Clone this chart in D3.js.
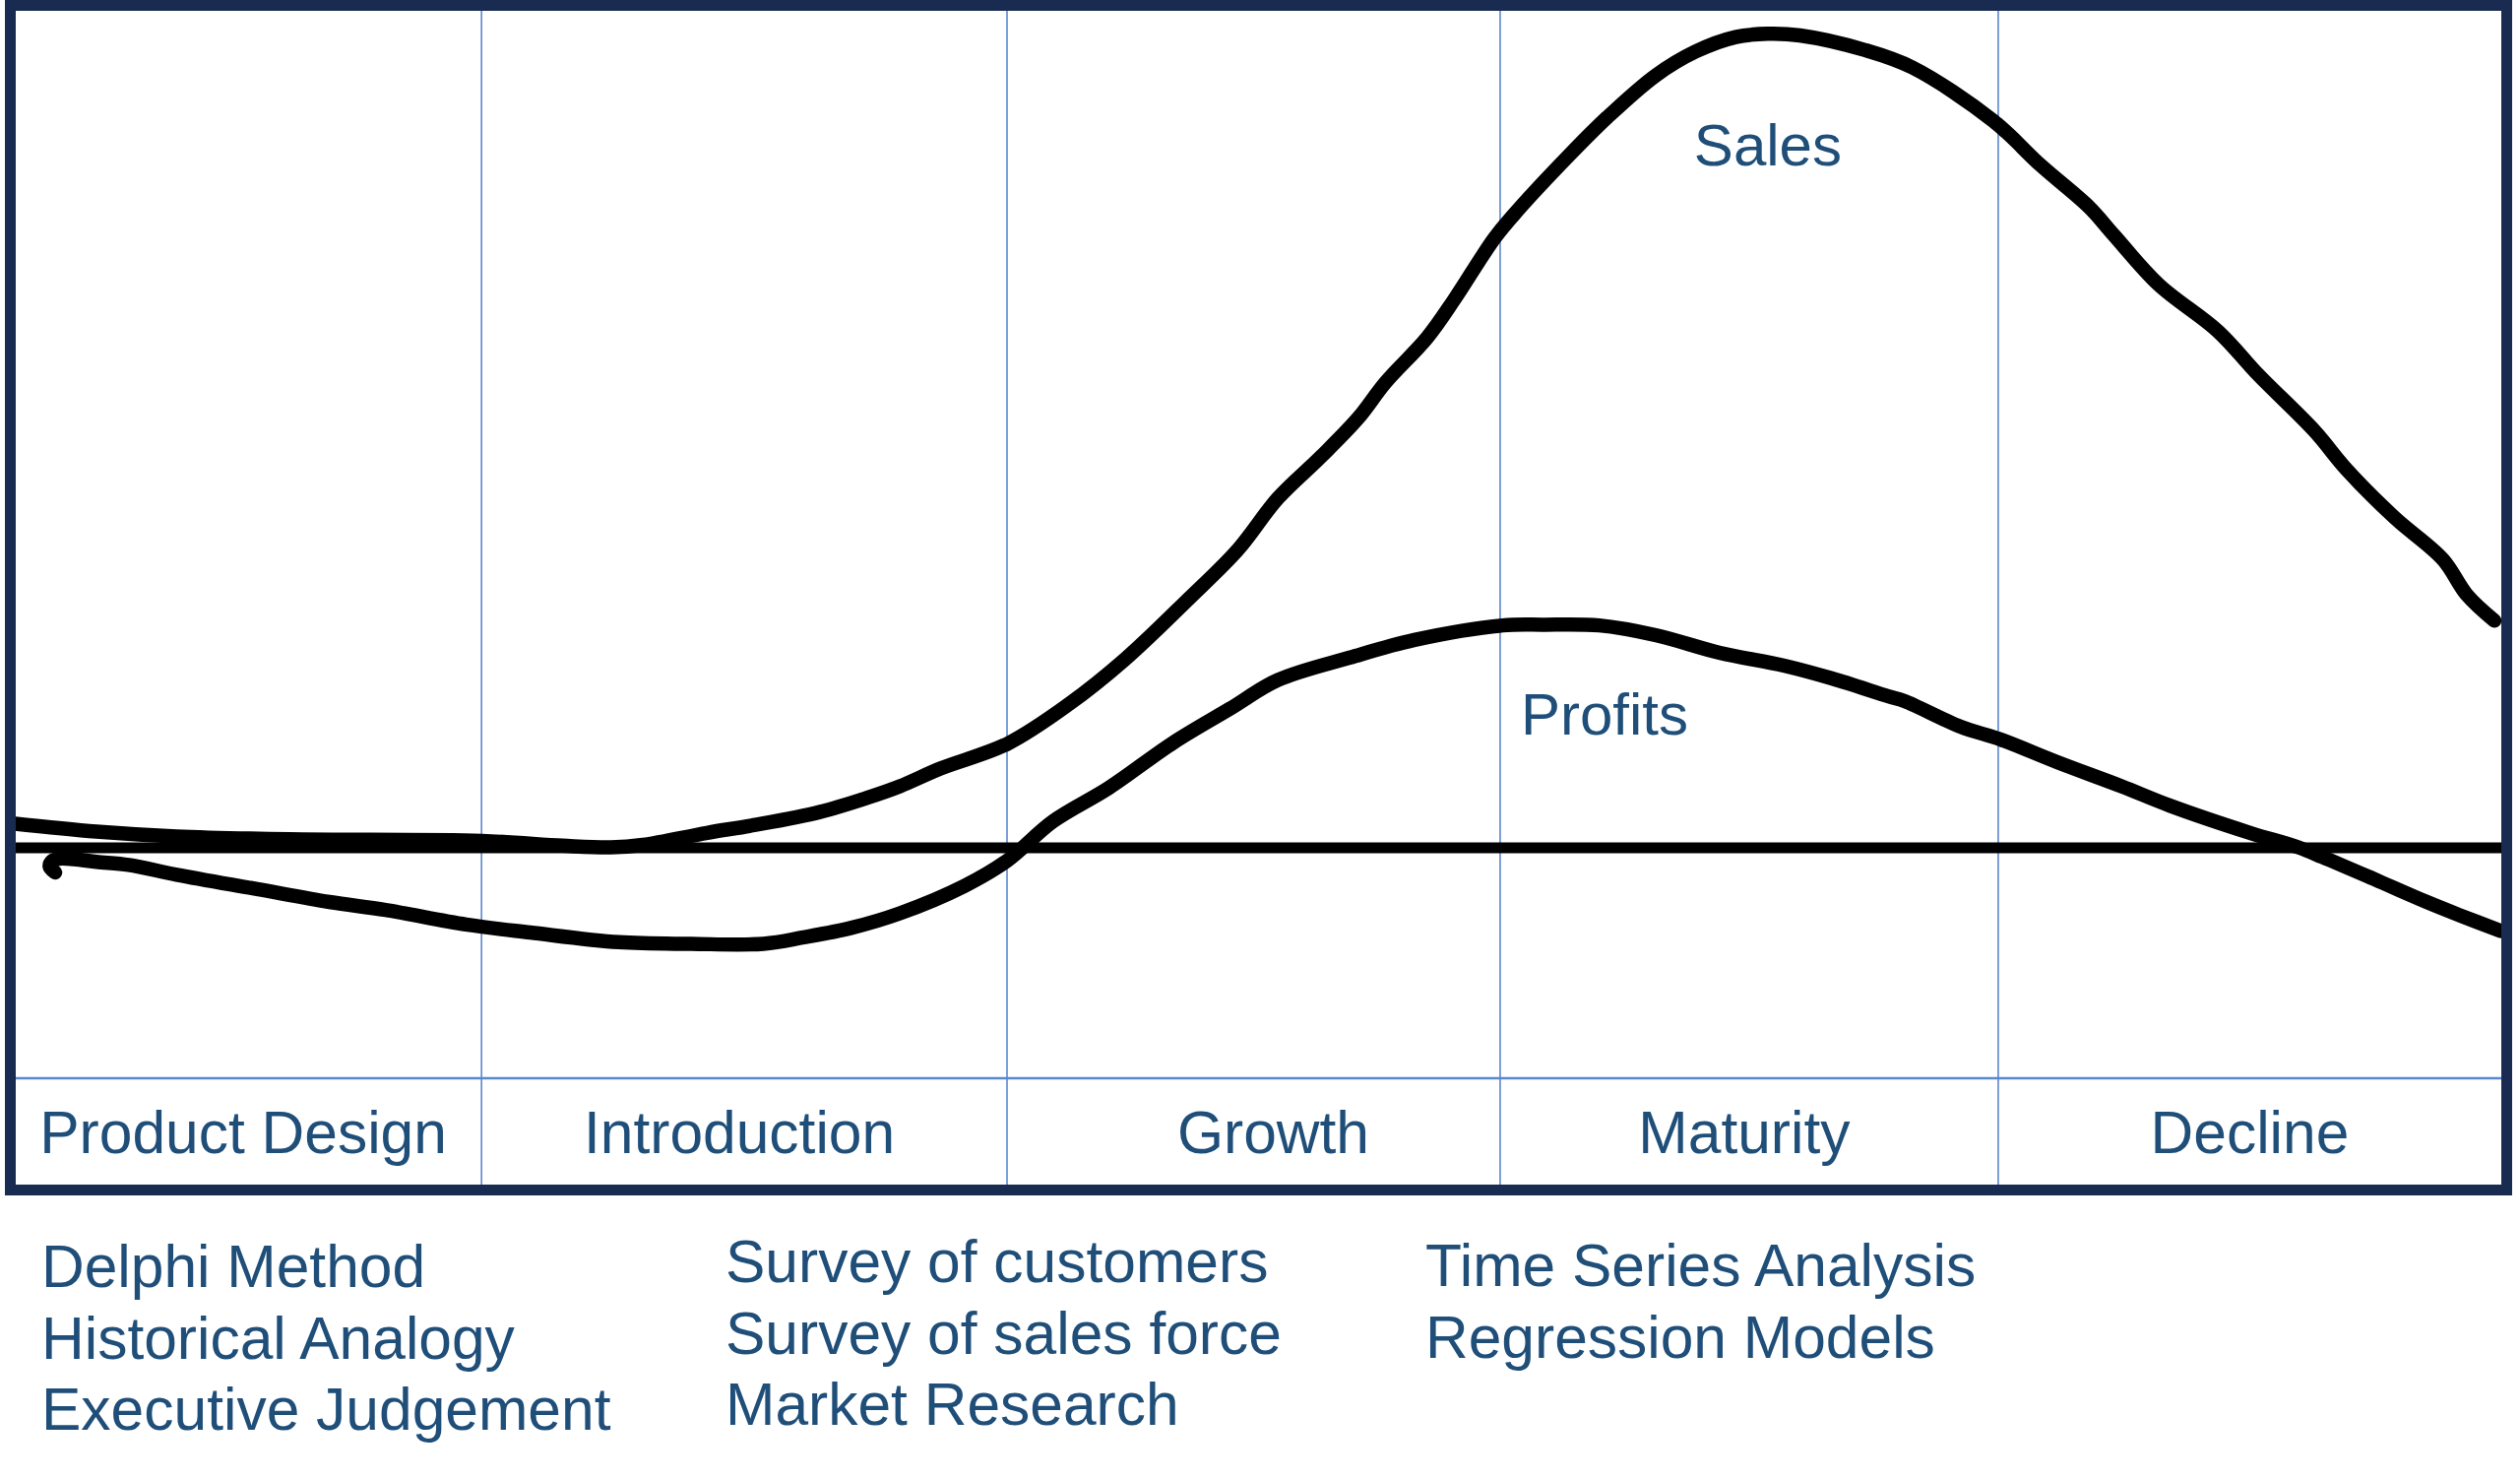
<!DOCTYPE html>
<html>
<head>
<meta charset="utf-8">
<script src="https://cdn.jsdelivr.net/npm/d3@7"></script>
<style>
  html, body { margin: 0; padding: 0; background: #ffffff; }
  svg { display: block; }
  text { font-family: "Liberation Sans", Arial, sans-serif; fill: #1F4E79; }
</style>
</head>
<body>
<script>
// ---------------- DATA ----------------
// time axis: 0..100 across the whole life cycle; value axis: 0 = break-even line
const stages = ["Product Design", "Introduction", "Growth", "Maturity", "Decline"];
const stageBounds = [0, 18.9, 40.0, 59.8, 79.8, 100];

const salesT = [0.08, 3.44, 6.66, 11.18, 18.92, 22.15, 24.09, 25.38, 27.96, 29.90, 32.48, 34.42, 35.70, 37.32,
  40.03, 42.48, 44.74, 47.32, 49.26, 50.87, 52.61, 54.10, 55.19, 56.87, 57.97, 59.58, 60.55, 62.48, 64.10,
  66.04, 67.65, 69.26, 70.55, 71.84, 74.42, 76.36, 79.59, 81.52, 83.46, 84.43, 86.24, 88.62, 90.24, 92.50,
  93.79, 95.72, 97.66, 98.62, 99.72];
const salesV = [3.0, 2.0, 1.4, 1.05, 0.85, 0.26, 0.06, 0.36, 1.84, 2.82, 4.40, 6.18, 7.56, 9.73,
  12.8, 17.63, 23.16, 30.66, 36.58, 42.90, 48.04, 52.77, 57.12, 62.65, 67.38, 74.89, 78.44, 84.76, 89.70,
  94.83, 97.79, 99.57, 99.96, 99.76, 97.99, 95.81, 89.30, 83.77, 78.64, 75.28, 69.16, 63.44, 58.10, 51.19,
  46.46, 40.53, 35.40, 31.06, 27.90];

const profitsT = [1.78, 1.56, 1.66, 1.94, 2.53, 3.44, 4.73, 6.66, 9.89, 12.79, 15.05, 18.28, 20.86, 24.41, 27.31,
  30.22, 31.83, 33.77, 35.70, 38.29, 40.03, 41.83, 44.09, 46.67, 48.93, 50.87, 53.77, 56.36, 59.90, 61.52,
  63.78, 66.04, 68.62, 71.20, 73.13, 75.39, 76.04, 78.29, 79.91, 82.17, 84.75, 86.69, 89.91, 91.85, 92.82,
  95.08, 97.01, 98.30, 99.98];
const profitsV = [-3.02, -2.30, -1.63, -1.33, -1.39, -1.72, -2.11, -3.30, -5.07, -6.65, -7.64, -9.42, -10.40, -11.59, -11.79,
  -11.79, -11.00, -9.81, -8.04, -4.68, -1.52, 3.22, 7.36, 12.90, 17.04, 20.59, 23.36, 25.53, 27.31, 27.40,
  27.31, 26.12, 23.95, 22.37, 20.79, 18.61, 18.02, 14.87, 13.29, 10.52, 7.56, 5.19, 1.84, 0.06, -1.13,
  -4.09, -6.65, -8.24, -10.21];

const methodColumns = [
  ["Delphi Method", "Historical Analogy", "Executive Judgement"],
  ["Survey of customers", "Survey of sales force", "Market Research"],
  ["Time Series Analysis", "Regression Models"]
];
const seriesLabels = ["Sales", "Profits"];

// ---------------- LAYOUT ----------------
const W = 2560, H = 1503;
const svg = d3.select("body").append("svg").attr("width", W).attr("height", H);

const x = d3.scaleLinear().domain([0, 100]).range([11, 2541]);
const y = d3.scaleLinear().domain([0, 100]).range([861, 34]);

const frameColor = "#1A2B51";
const gridColor = "#5B87CF";
const bandTop = 1095, frameBottom = 1208.5;

// stage dividers
svg.append("g").selectAll("line")
  .data(stageBounds.slice(1, -1))
  .join("line")
  .attr("x1", d => x(d)).attr("x2", d => x(d))
  .attr("y1", 6).attr("y2", 1210)
  .attr("stroke", gridColor).attr("stroke-width", 1.6);

// band separator
svg.append("line")
  .attr("x1", 11).attr("x2", 2547)
  .attr("y1", bandTop).attr("y2", bandTop)
  .attr("stroke", gridColor).attr("stroke-width", 2.6);

// break-even line
svg.append("line")
  .attr("x1", x(0)).attr("x2", x(100))
  .attr("y1", y(0)).attr("y2", y(0))
  .attr("stroke", "#000").attr("stroke-width", 11);

// curves
const line = d3.line().x(d => x(d[0])).y(d => y(d[1])).curve(d3.curveCatmullRom.alpha(0.5));
const salesData = salesT.map((t, i) => [t, salesV[i]]);
const profitsData = profitsT.map((t, i) => [t, profitsV[i]]);
[salesData, profitsData].forEach(data => {
  svg.append("path")
    .datum(data)
    .attr("d", line)
    .attr("fill", "none")
    .attr("stroke", "#000")
    .attr("stroke-width", 14.5)
    .attr("stroke-linecap", "round")
    .attr("stroke-linejoin", "round");
});

// outer frame
svg.append("rect")
  .attr("x", 10.5).attr("y", 5.5)
  .attr("width", 2536).attr("height", frameBottom - 5.5)
  .attr("fill", "none")
  .attr("stroke", frameColor).attr("stroke-width", 11);

// series labels
svg.append("text").text(seriesLabels[0])
  .attr("x", x(70.55)).attr("y", y(83.8))
  .attr("text-anchor", "middle").attr("font-size", 60);
svg.append("text").text(seriesLabels[1])
  .attr("x", x(60.63)).attr("y", y(13.9))
  .attr("text-anchor", "start").attr("font-size", 60);

// stage labels
svg.append("g").selectAll("text")
  .data(stages)
  .join("text")
  .text(d => d)
  .attr("x", (d, i) => (x(stageBounds[i]) + x(stageBounds[i + 1])) / 2 + [-3, -5, 20, -5, 0][i])
  .attr("y", 1171)
  .attr("text-anchor", "middle")
  .attr("font-size", 60.5);

// forecasting methods
const colX = [42, 737, 1448];
const colY0 = [1307, 1302, 1306];
const lineStep = 72.5;
methodColumns.forEach((col, ci) => {
  svg.append("g").selectAll("text")
    .data(col)
    .join("text")
    .text(d => d)
    .attr("x", colX[ci])
    .attr("y", (d, i) => colY0[ci] + i * lineStep)
    .attr("font-size", 60.5);
});
</script>
</body>
</html>
